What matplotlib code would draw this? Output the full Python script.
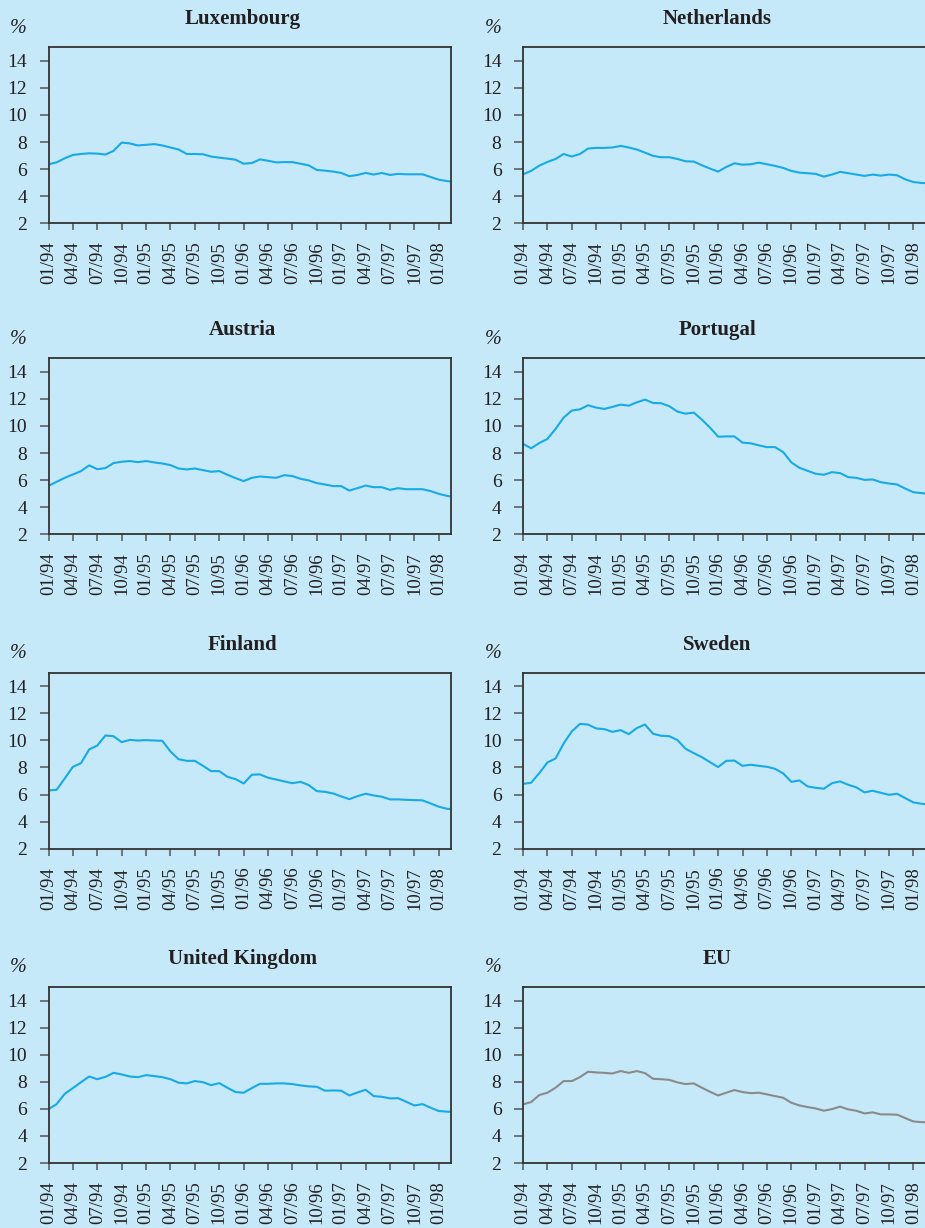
import matplotlib
matplotlib.use('Agg')
import matplotlib.pyplot as plt

plt.rcParams['font.family'] = ['Liberation Serif', 'DejaVu Serif']

# month index 0 = 01/94, monthly to 03/98
months = list(range(51))
tick_pos = list(range(0, 49, 3))
tick_labels = ['01/94', '04/94', '07/94', '10/94', '01/95', '04/95', '07/95', '10/95',
               '01/96', '04/96', '07/96', '10/96', '01/97', '04/97', '07/97', '10/97', '01/98']

luxembourg = [6.36, 6.5, 6.8, 7.05, 7.12, 7.17, 7.15, 7.08, 7.35, 7.96, 7.9, 7.75, 7.8,
              7.85, 7.75, 7.6, 7.45, 7.12, 7.12, 7.1, 6.93, 6.85, 6.78, 6.7, 6.4, 6.45,
              6.72, 6.62, 6.5, 6.52, 6.52, 6.4, 6.28, 5.94, 5.89, 5.82, 5.72, 5.48, 5.57,
              5.72, 5.6, 5.72, 5.57, 5.65, 5.62, 5.62, 5.62, 5.42, 5.22, 5.12, 5.05]
netherlands = [5.62, 5.87, 6.26, 6.53, 6.75, 7.12, 6.93, 7.12, 7.52, 7.57, 7.57, 7.6, 7.72,
               7.6, 7.45, 7.22, 6.98, 6.88, 6.88, 6.75, 6.58, 6.56, 6.29, 6.04, 5.82, 6.16,
               6.43, 6.33, 6.36, 6.48, 6.36, 6.24, 6.09, 5.87, 5.74, 5.7, 5.65, 5.45, 5.6,
               5.8, 5.7, 5.6, 5.5, 5.6, 5.52, 5.6, 5.55, 5.25, 5.05, 4.98, 4.95]
austria = [5.58, 5.88, 6.17, 6.42, 6.67, 7.09, 6.81, 6.89, 7.26, 7.36, 7.41, 7.33, 7.41,
           7.31, 7.23, 7.11, 6.86, 6.79, 6.86, 6.74, 6.62, 6.67, 6.4, 6.15, 5.93, 6.17,
           6.27, 6.22, 6.17, 6.37, 6.3, 6.1, 5.98, 5.78, 5.68, 5.56, 5.56, 5.23, 5.41,
           5.6, 5.48, 5.48, 5.28, 5.41, 5.33, 5.33, 5.33, 5.19, 4.99, 4.84, 4.75]
portugal = [8.69, 8.35, 8.74, 9.04, 9.78, 10.62, 11.14, 11.23, 11.53, 11.36, 11.26, 11.41,
            11.58, 11.5, 11.75, 11.95, 11.7, 11.68, 11.46, 11.06, 10.91, 10.99, 10.47, 9.88,
            9.21, 9.23, 9.23, 8.77, 8.72, 8.57, 8.44, 8.44, 8.07, 7.31, 6.91, 6.69, 6.47,
            6.4, 6.59, 6.52, 6.22, 6.17, 6.02, 6.05, 5.85, 5.75, 5.68, 5.38, 5.11, 5.04, 5.0]
finland = [6.3, 6.35, 7.19, 8.05, 8.32, 9.33, 9.62, 10.36, 10.31, 9.87, 10.04, 9.99, 10.02,
           9.99, 9.97, 9.18, 8.61, 8.49, 8.49, 8.12, 7.73, 7.73, 7.31, 7.14, 6.82, 7.46,
           7.49, 7.24, 7.11, 6.97, 6.84, 6.94, 6.7, 6.25, 6.2, 6.08, 5.86, 5.66, 5.88,
           6.06, 5.93, 5.84, 5.64, 5.64, 5.61, 5.59, 5.57, 5.34, 5.1, 4.95, 4.9]
sweden = [6.79, 6.87, 7.58, 8.37, 8.66, 9.77, 10.66, 11.22, 11.17, 10.88, 10.83, 10.63,
          10.76, 10.46, 10.91, 11.17, 10.49, 10.34, 10.31, 10.02, 9.38, 9.06, 8.76, 8.39,
          8.03, 8.49, 8.51, 8.12, 8.2, 8.12, 8.05, 7.9, 7.56, 6.94, 7.04, 6.6, 6.5, 6.43,
          6.84, 6.97, 6.72, 6.53, 6.16, 6.28, 6.13, 5.98, 6.06, 5.74, 5.42, 5.32, 5.25]
united_kingdom = [5.98, 6.35, 7.11, 7.53, 7.97, 8.39, 8.19, 8.36, 8.66, 8.54, 8.39, 8.34,
                  8.49, 8.42, 8.34, 8.19, 7.93, 7.88, 8.05, 7.97, 7.75, 7.9, 7.56, 7.24,
                  7.19, 7.53, 7.85, 7.85, 7.88, 7.88, 7.83, 7.73, 7.66, 7.63, 7.34, 7.36,
                  7.34, 6.99, 7.21, 7.41, 6.94, 6.89, 6.77, 6.79, 6.52, 6.25, 6.35, 6.08,
                  5.84, 5.79, 5.78]
eu = [6.33, 6.5, 7.02, 7.19, 7.56, 8.05, 8.05, 8.34, 8.74, 8.69, 8.66, 8.61, 8.79, 8.66,
      8.79, 8.64, 8.22, 8.19, 8.14, 7.95, 7.83, 7.88, 7.56, 7.26, 6.99, 7.19, 7.39, 7.24,
      7.16, 7.19, 7.07, 6.94, 6.82, 6.45, 6.25, 6.13, 6.03, 5.86, 5.98, 6.16, 5.96, 5.86,
      5.66, 5.74, 5.59, 5.59, 5.57, 5.32, 5.07, 5.02, 5.0]

panels = [('Luxembourg', luxembourg), ('Netherlands', netherlands),
          ('Austria', austria), ('Portugal', portugal),
          ('Finland', finland), ('Sweden', sweden),
          ('United Kingdom', united_kingdom), ('EU', eu)]

bg = '#c6e9f9'
blue = '#16aae8'
grey = '#8a8a8a'
ink = '#231f20'

W, H = 925, 1228
fig = plt.figure(figsize=(W / 100, H / 100), dpi=100, facecolor=bg)

# panel geometry in pixels
col_left = [48.5, 523]
row_top = [47.3, 358.3, 672.7, 987]
ax_w, ax_h = 402.5, 176

for i, (name, vals) in enumerate(panels):
    r, c = divmod(i, 2)
    x0 = col_left[c]
    y0 = row_top[r] + ax_h
    ax = fig.add_axes([x0 / W, 1 - y0 / H, ax_w / W, ax_h / H])
    ax.set_facecolor(bg)
    color = grey if name == 'EU' else blue
    ax.plot(months, vals, color=color, lw=1.5)
    ax.set_xlim(0, 49.5)
    ax.set_ylim(2, 15)
    ax.set_yticks([2, 4, 6, 8, 10, 12, 14])
    ax.set_xticks(tick_pos)
    ax.set_xticklabels(tick_labels, rotation=90)
    ax.tick_params(axis='y', direction='out', length=6.5, width=1.1, pad=9,
                   labelsize=14, colors='#555555', labelcolor=ink)
    ax.tick_params(axis='x', direction='out', length=5, width=1.1, pad=8,
                   labelsize=13.5, colors='#555555', labelcolor=ink)
    for s in ax.spines.values():
        s.set_color('#333333')
        s.set_linewidth(1.3)
    if c == 1:
        ax.spines['right'].set_visible(False)
    ax.set_title(name, fontsize=15, fontweight='bold', color=ink, x=0.483, pad=16.5)
    ax.text(-30 / ax_w, 1 + 19 / ax_h, '%', transform=ax.transAxes,
            ha='center', va='center', fontsize=14.5, style='italic', color=ink)

fig.savefig('out.png', dpi=100, facecolor=bg)
